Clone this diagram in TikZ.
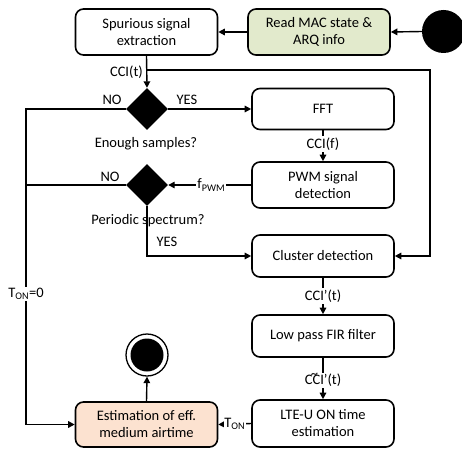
\documentclass[tikz,border=0pt]{standalone}
\usepackage{fontspec}
\setmainfont{Carlito}
\usetikzlibrary{arrows.meta,shapes.geometric}
\definecolor{macgreen}{RGB}{226,234,204}
\definecolor{estpeach}{RGB}{252,226,208}
\tikzset{
  box/.style={draw, line width=1.6pt, rounded corners=8pt, align=center, inner sep=0pt, minimum width=142pt},
  arr/.style={-{Triangle[length=6.5pt,width=6.5pt]}, line width=1.4pt},
  ln/.style={line width=1.4pt},
  dec/.style={diamond, fill=black, minimum width=42pt, minimum height=42pt, inner sep=0pt},
  lbl/.style={inner sep=1pt, font=\fontsize{14.5}{17}\selectfont},
  onl/.style={lbl, fill=white, inner sep=1.5pt},
}
\begin{document}
\begin{tikzpicture}[x=1pt,y=-1pt, font=\fontsize{14.5}{17}\selectfont]
\useasboundingbox (0,0) rectangle (462,449);
% nodes
\node[box, minimum height=46pt] (spur) at (146.5,32) {Spurious signal\\extraction};
\node[box, minimum height=46pt, fill=macgreen] (mac) at (319,32) {Read MAC state \&\\ARQ info};
\node[circle, fill=black, minimum size=43pt, inner sep=0pt] (start) at (443.5,31.5) {};
\node[dec] (d1) at (147,109) {};
\node[box, minimum height=41pt] (fft) at (323,109) {FFT};
\node[box, minimum height=46pt] (pwm) at (323,185) {PWM signal\\detection};
\node[dec] (d2) at (147,185) {};
\node[box, minimum height=42pt] (clus) at (323,256) {Cluster detection};
\node[box, minimum height=42pt] (lpf) at (323,336) {Low pass FIR filter};
\node[box, minimum height=47pt] (lte) at (323,423.5) {LTE-U ON time\\estimation};
\node[box, minimum height=45pt, fill=estpeach] (est) at (146.5,424.5) {Estimation of eff.\\medium airtime};
\node[circle, draw, line width=1.3pt, minimum size=42pt, inner sep=0pt] (fin) at (147,355) {};
\fill (fin.center) circle (16.5pt);
\coordinate (lft) at (26,0);
\coordinate (br) at (146.5,70);
\coordinate (rt) at (430,70);
% connectors
\draw[arr] (start.west) -- (mac.east);
\draw[arr] (mac.west) -- (spur.east);
\draw[arr] (spur.south) -- (d1.north);
\draw[arr] (br) -- (rt) |- (clus.east);
\node[lbl, anchor=east] (ccit) at (144,72) {CCI(t)};
\draw[arr] (d1.east) -- (fft.west);
\node[lbl] (yes1) at (187,100) {YES};
\node[lbl] (no1) at (112,100) {NO};
\draw[arr] (d1.west) -- (d1.west -| lft) |- (est.west);
\node[onl] (ton0) at (26,294) {T\textsubscript{ON}=0};
\node[lbl] (es) at (146,144) {Enough samples?};
\draw[arr] (fft.south) -- (pwm.north) node[onl, midway, yshift=2pt] (ccif) {CCI(f)};
\draw[arr] (pwm.west) -- (d2.east) node[onl, pos=0.48, inner sep=1pt] (fpwm) {f\textsubscript{PWM}};
\draw[ln] (d2.west) -- (d2.west -| lft);
\node[lbl] (no2) at (110,177) {NO};
\node[lbl] (ps) at (148,221) {Periodic spectrum?};
\draw[arr] (d2.south) |- (clus.west);
\node[lbl] (yes2) at (167,242) {YES};
\draw[arr] (clus.south) -- (lpf.north) node[onl, midway] (ccip) {CCI’(t)};
\draw[arr] (lpf.south) -- (lte.north) node[onl, midway, yshift=-2pt] (ccit2) {\ooalign{CCI\cr\hfil\raisebox{0.42em}{\~{}}\hfil\cr}’(t)};
\draw[arr] (lte.west) -- (est.east) node[onl, midway, inner sep=0.5pt] (ton) {T\textsubscript{ON}};
\draw[arr] (est.north) -- (fin.south);
\end{tikzpicture}
\end{document}
